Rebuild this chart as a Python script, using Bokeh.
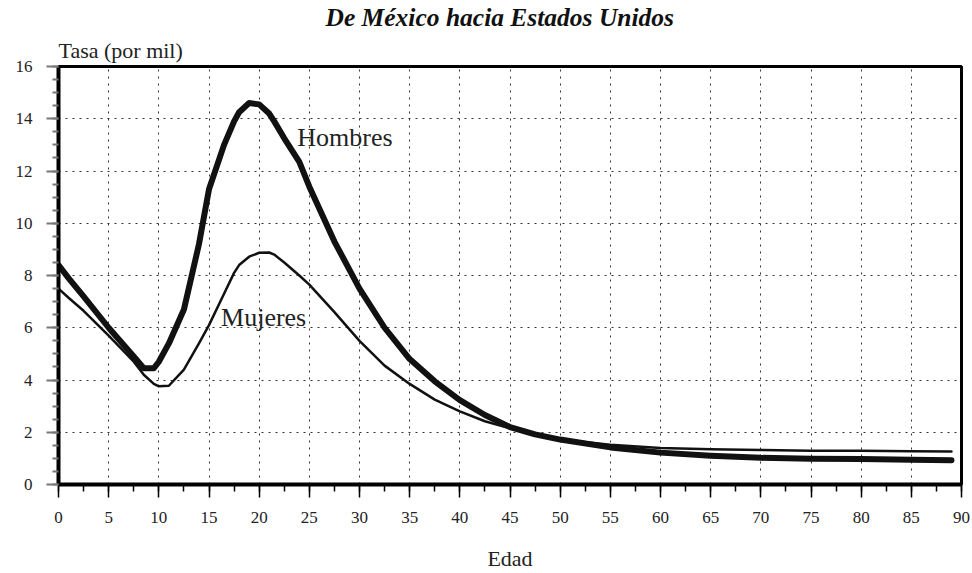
from bokeh.plotting import figure
from bokeh.models import Range1d, Label, SingleIntervalTicker, Title
from bokeh.embed import file_html
from bokeh.resources import INLINE

# ---- data ----
edad = [0, 1, 2.5, 5, 7.5, 8.5, 9.5, 10, 11, 12.5, 14, 15, 16.5, 17.5, 18, 19, 20,
        21, 21.5, 22.5, 24, 25, 27.5, 30, 32.5, 35, 37.5, 40, 42.5, 45, 47.5, 50,
        55, 60, 65, 70, 75, 80, 85, 89]
hombres = [8.4, 7.9, 7.2, 6.0, 4.9, 4.45, 4.45, 4.7, 5.4, 6.7, 9.2, 11.3, 13.0,
           13.9, 14.25, 14.6, 14.55, 14.2, 13.9, 13.25, 12.35, 11.4, 9.3, 7.5, 6.0, 4.8, 3.95,
           3.23, 2.66, 2.2, 1.92, 1.72, 1.42, 1.22, 1.1, 1.02, 0.99, 0.98, 0.95, 0.93]
mujeres = [7.5, 7.15, 6.65, 5.7, 4.7, 4.2, 3.85, 3.76, 3.78, 4.4, 5.4, 6.1, 7.3,
           8.1, 8.4, 8.72, 8.87, 8.88, 8.8, 8.5, 8.0, 7.65, 6.6, 5.5, 4.55, 3.85, 3.25,
           2.8, 2.42, 2.15, 1.92, 1.72, 1.52, 1.4, 1.35, 1.32, 1.29, 1.29, 1.27, 1.26]

titulo = "De México hacia Estados Unidos"
eje_y = "Tasa (por mil)"
eje_x = "Edad"
serie_h = "Hombres"
serie_m = "Mujeres"

FONT = "Liberation Serif"

p = figure(width=972, height=573, output_backend="svg", toolbar_location=None,
           title=None,
           x_range=Range1d(0, 90), y_range=Range1d(0, 16),
           min_border_left=58, min_border_right=11, min_border_top=65,
           min_border_bottom=89)

p.outline_line_color = "black"
p.outline_line_width = 3
p.background_fill_color = "white"
p.border_fill_color = "white"

# titles above the frame (first added = closest to frame)
p.add_layout(Title(text=eje_y, align="left", text_font=FONT, text_font_size="22px",
                   text_font_style="normal", text_color="#222", standoff=8), "above")
p.add_layout(Title(text=titulo, align="left", offset=267, text_font=FONT,
                   text_font_size="25.5px", text_font_style="bold italic",
                   text_color="#111", standoff=0), "above")

# axes
p.xaxis.ticker = SingleIntervalTicker(interval=5, num_minor_ticks=2)
p.yaxis.ticker = SingleIntervalTicker(interval=2, num_minor_ticks=4)
for ax in (p.xaxis, p.yaxis):
    ax.axis_line_color = "black"
    ax.axis_line_width = 4
    ax.major_label_text_font = FONT
    ax.major_label_text_font_size = "17px"
    ax.major_label_text_color = "#222"
    ax.major_tick_in = 0
    ax.minor_tick_in = 0
p.xaxis.major_tick_out = 13
p.xaxis.minor_tick_out = 7
p.xaxis.major_tick_line_color = "black"
p.xaxis.minor_tick_line_color = "black"
p.xaxis.major_tick_line_width = 1.5
p.xaxis.minor_tick_line_width = 1.5
p.xaxis.major_label_standoff = 14
p.xaxis.axis_label = eje_x
p.xaxis.axis_label_text_font = FONT
p.xaxis.axis_label_text_font_size = "22px"
p.xaxis.axis_label_text_font_style = "normal"
p.xaxis.axis_label_text_color = "#222"
p.xaxis.axis_label_standoff = 20
p.yaxis.major_tick_out = 12
p.yaxis.minor_tick_out = 6
p.yaxis.major_tick_line_color = "#777"
p.yaxis.minor_tick_line_color = "#777"
p.yaxis.major_tick_line_width = 2
p.yaxis.minor_tick_line_width = 2
p.yaxis.major_label_standoff = 14

# grid
for g in (p.xgrid, p.ygrid):
    g.grid_line_color = "#333"
    g.grid_line_width = 1
    g.grid_line_dash = "2 5"

# curves
p.line(edad, hombres, line_color="#111", line_width=6, line_join="round", line_cap="round")
p.line(edad, mujeres, line_color="#111", line_width=2.5, line_join="round", line_cap="round")

# in-plot labels
p.add_layout(Label(x=23.8, y=13.3, text=serie_h, text_font=FONT, text_font_size="26px",
                   text_align="left", text_baseline="middle", text_color="#222"))
p.add_layout(Label(x=16.2, y=6.4, text=serie_m, text_font=FONT, text_font_size="26px",
                   text_align="left", text_baseline="middle", text_color="#222"))

open("out.html", "w").write(file_html(p, INLINE))
